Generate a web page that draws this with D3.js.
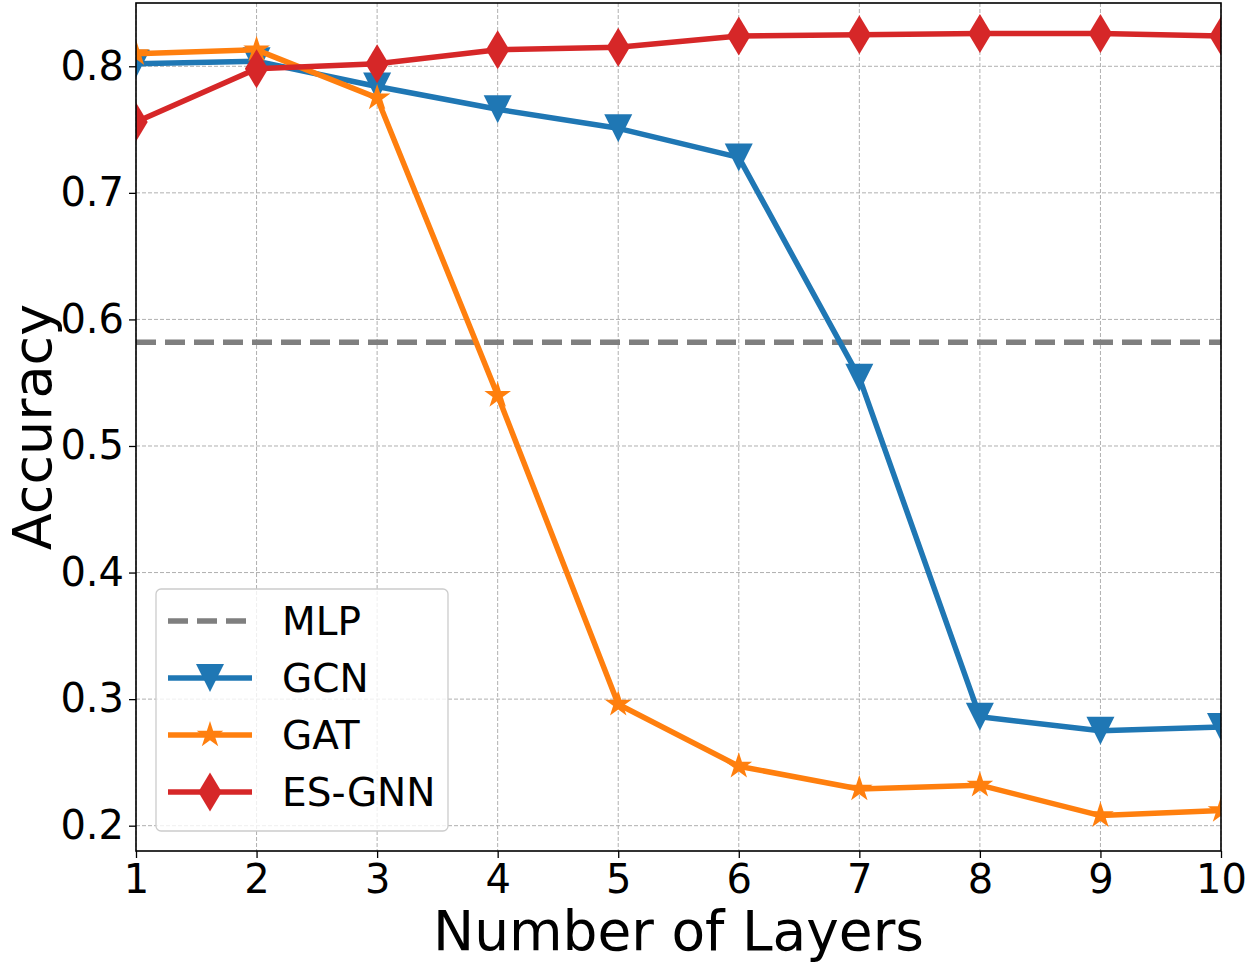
<!DOCTYPE html>
<html>
<head>
<meta charset="utf-8">
<script src="https://cdn.jsdelivr.net/npm/d3@7"></script>
<style>
  body { margin: 0; background: #fff; }
  svg text { font-family: "DejaVu Sans", sans-serif; fill: #000; }
</style>
</head>
<body>
<div id="chart"></div>
<script>
// data
var layers = [1, 2, 3, 4, 5, 6, 7, 8, 9, 10];
var gcn = [0.802, 0.804, 0.784, 0.766, 0.751, 0.728, 0.554, 0.286, 0.275, 0.278];
var gat = [0.810, 0.813, 0.775, 0.540, 0.296, 0.247, 0.229, 0.232, 0.208, 0.212];
var esgnn = [0.756, 0.798, 0.802, 0.813, 0.815, 0.824, 0.825, 0.826, 0.826, 0.824];
var mlp = 0.582;
var yTicks = [0.2, 0.3, 0.4, 0.5, 0.6, 0.7, 0.8];
var legendNames = ["MLP", "GCN", "GAT", "ES-GNN"];

var width = 1247;
var height = 964;
var margin = {top: 3, right: 26, bottom: 113, left: 136};
var w = width - margin.left - margin.right;
var h = height - margin.top - margin.bottom;

var x = d3.scaleLinear().domain([1, 10]).range([0, w]);
var y = d3.scaleLinear().domain([0.18, 0.85]).range([h, 0]);

var svg = d3.select("#chart").append("svg")
  .attr("width", width)
  .attr("height", height);

var g = svg.append("g")
  .attr("transform", "translate(" + margin.left + "," + margin.top + ")");

g.append("clipPath").attr("id", "clip")
  .append("rect").attr("width", w).attr("height", h);

// grid
g.append("g").selectAll("line").data(layers).enter().append("line")
  .attr("x1", function (d) { return x(d); })
  .attr("x2", function (d) { return x(d); })
  .attr("y1", 0).attr("y2", h)
  .attr("stroke", "#b0b0b0").attr("stroke-width", 1).attr("stroke-dasharray", "4,2");
g.append("g").selectAll("line").data(yTicks).enter().append("line")
  .attr("y1", function (d) { return y(d); })
  .attr("y2", function (d) { return y(d); })
  .attr("x1", 0).attr("x2", w)
  .attr("stroke", "#b0b0b0").attr("stroke-width", 1).attr("stroke-dasharray", "4,2");

// marker shapes
function triDown(s) {
  var r = s / 2;
  return "M0," + r + "L" + (-r) + "," + (-r) + "L" + r + "," + (-r) + "Z";
}
function thinDiamond(s) {
  var r = s / 2, q = s * 0.3;
  return "M0," + (-r) + "L" + q + ",0L0," + r + "L" + (-q) + ",0Z";
}
function star(s) {
  var R = s / 2, ri = R * 0.382, p = [];
  for (var i = 0; i < 10; i++) {
    var a = -Math.PI / 2 + i * Math.PI / 5;
    var rr = i % 2 === 0 ? R : ri;
    p.push([rr * Math.cos(a), rr * Math.sin(a)]);
  }
  return "M" + p.join("L") + "Z";
}

var series = [
  {name: "GCN", values: gcn, color: "#1f77b4", shape: triDown, size: 28},
  {name: "GAT", values: gat, color: "#ff7f0e", shape: star, size: 28},
  {name: "ES-GNN", values: esgnn, color: "#d62728", shape: thinDiamond, size: 39}
];

var plot = g.append("g").attr("clip-path", "url(#clip)");

// MLP baseline
plot.append("line")
  .attr("x1", 0).attr("x2", w)
  .attr("y1", y(mlp)).attr("y2", y(mlp))
  .attr("stroke", "#7f7f7f").attr("stroke-width", 5.5)
  .attr("stroke-dasharray", "20,9");

var line = d3.line()
  .x(function (d, i) { return x(layers[i]); })
  .y(function (d) { return y(d); });

series.forEach(function (s) {
  var sg = plot.append("g");
  sg.append("path")
    .attr("d", line(s.values))
    .attr("fill", "none")
    .attr("stroke", s.color)
    .attr("stroke-width", 5.5)
    .attr("stroke-linejoin", "round");
  sg.selectAll(".m").data(s.values).enter().append("path")
    .attr("d", s.shape(s.size))
    .attr("transform", function (d, i) { return "translate(" + x(layers[i]) + "," + y(d) + ")"; })
    .attr("fill", s.color);
});

// axes
var xAxis = g.append("g").attr("transform", "translate(0," + h + ")")
  .call(d3.axisBottom(x).tickValues(layers).tickSize(7).tickPadding(5).tickFormat(d3.format("d")));
var yAxis = g.append("g")
  .call(d3.axisLeft(y).tickValues(yTicks).tickSize(7).tickPadding(5).tickFormat(d3.format(".1f")));
[xAxis, yAxis].forEach(function (a) {
  a.select(".domain").remove();
  a.selectAll("line").attr("stroke", "#000").attr("stroke-width", 1.3);
  a.selectAll("text").style("font-size", "40px").style("font-family", "DejaVu Sans");
});
xAxis.selectAll("text").attr("dy", "0.74em");

// frame
g.append("rect")
  .attr("width", w).attr("height", h)
  .attr("fill", "none").attr("stroke", "#000").attr("stroke-width", 1.6);

// axis titles
svg.append("text")
  .attr("x", margin.left + w / 2).attr("y", 950)
  .attr("text-anchor", "middle")
  .style("font-size", "55px")
  .text("Number of Layers");
svg.append("text")
  .attr("transform", "translate(51," + (margin.top + h / 2) + ") rotate(-90)")
  .attr("text-anchor", "middle")
  .style("font-size", "54px")
  .text("Accuracy");

// legend
var lg = svg.append("g").attr("transform", "translate(156,589)");
lg.append("rect")
  .attr("width", 292).attr("height", 242).attr("rx", 5)
  .attr("fill", "#fff").attr("fill-opacity", 0.8)
  .attr("stroke", "#cccccc").attr("stroke-width", 1.3);

var legendItems = [{name: legendNames[0], color: "#7f7f7f", dash: true}]
  .concat(series.map(function (s, i) { return {name: legendNames[i + 1], color: s.color, shape: s.shape, size: s.size}; }));

legendItems.forEach(function (d, i) {
  var cy = 32 + i * 57;
  lg.append("line")
    .attr("x1", 12).attr("x2", 96)
    .attr("y1", cy).attr("y2", cy)
    .attr("stroke", d.color).attr("stroke-width", 5.5)
    .attr("stroke-dasharray", d.dash ? "20,9" : null);
  if (d.shape) {
    lg.append("path")
      .attr("d", d.shape(d.size))
      .attr("transform", "translate(54," + cy + ")")
      .attr("fill", d.color);
  }
  lg.append("text")
    .attr("x", 126).attr("y", cy)
    .attr("dy", "0.36em")
    .style("font-size", "39px")
    .text(d.name);
});
</script>
</body>
</html>
